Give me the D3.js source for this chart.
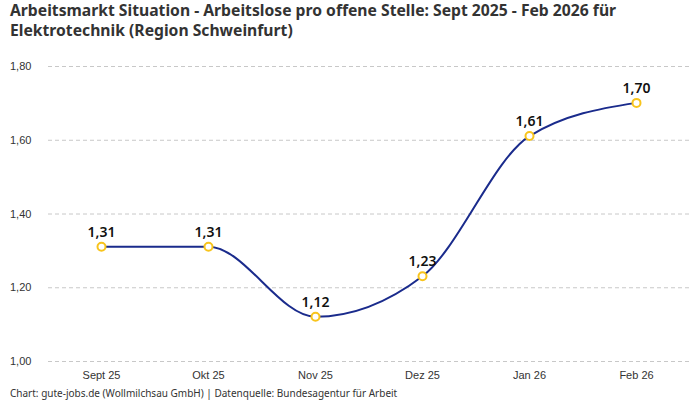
<!DOCTYPE html>
<html>
<head>
<meta charset="utf-8">
<script src="https://cdn.jsdelivr.net/npm/d3@7"></script>
<style>
  body { margin: 0; background: #fff; }
  svg { display: block; font-family: "Noto Sans", "Open Sans", sans-serif; }
</style>
</head>
<body>
<div id="chart"></div>
<script>
// data
var months = ["Sept 25", "Okt 25", "Nov 25", "Dez 25", "Jan 26", "Feb 26"];
var ratio = [1.31, 1.31, 1.12, 1.23, 1.61, 1.70];
var yTicks = [1.0, 1.2, 1.4, 1.6, 1.8];

var width = 700, height = 400;
var mLeft = 48, mRight = 690, mTop = 66, mBottom = 361;

var svg = d3.select("#chart").append("svg")
    .attr("width", width)
    .attr("height", height);

var fmt = function (v) { return v.toFixed(2).replace(".", ","); };

var x = d3.scaleBand().domain(months).range([mLeft, mRight]).padding(0);
var y = d3.scaleLinear().domain([1.0, 1.8]).range([mBottom, mTop]);

// titel
var title = svg.append("text")
    .attr("x", 10).attr("y", 16)
    .attr("font-size", 15.7).attr("font-weight", "bold").attr("fill", "#333");
title.append("tspan").attr("x", 10).attr("dy", 0)
    .text("Arbeitsmarkt Situation - Arbeitslose pro offene Stelle: Sept 2025 - Feb 2026 für");
title.append("tspan").attr("x", 10).attr("dy", 19.5)
    .text("Elektrotechnik (Region Schweinfurt)");

// gitter + y-achse
var gy = svg.append("g").attr("transform", "translate(" + mLeft + ",0)")
    .call(d3.axisLeft(y).tickValues(yTicks).tickFormat(fmt).tickSize(-(mRight - mLeft)).tickPadding(15));
gy.select(".domain").remove();
gy.selectAll(".tick line").attr("stroke", "#c8c8c8").attr("stroke-dasharray", "4,3");
gy.selectAll(".tick text").attr("font-size", 11).attr("fill", "#333")
    .attr("text-anchor", "start").attr("x", -38);

// x-achse
var gx = svg.append("g").attr("transform", "translate(0," + mBottom + ")")
    .call(d3.axisBottom(x).tickSize(0).tickPadding(10));
gx.select(".domain").remove();
gx.selectAll(".tick text").attr("font-size", 11).attr("fill", "#333");

var pts = months.map(function (m, i) { return { m: m, v: ratio[i] }; });

var line = d3.line()
    .x(function (d) { return x(d.m) + x.bandwidth() / 2; })
    .y(function (d) { return y(d.v); })
    .curve(d3.curveMonotoneX);

svg.append("path").datum(pts)
    .attr("d", line)
    .attr("fill", "none")
    .attr("stroke", "#1a2b8c")
    .attr("stroke-width", 2);

svg.selectAll("circle.pt").data(pts).enter().append("circle")
    .attr("class", "pt")
    .attr("cx", function (d) { return x(d.m) + x.bandwidth() / 2; })
    .attr("cy", function (d) { return y(d.v); })
    .attr("r", 4)
    .attr("fill", "#fff")
    .attr("stroke", "#f8c41c")
    .attr("stroke-width", 2);

svg.selectAll("text.lbl").data(pts).enter().append("text")
    .attr("class", "lbl")
    .attr("x", function (d) { return x(d.m) + x.bandwidth() / 2; })
    .attr("y", function (d) { return y(d.v) - 10; })
    .attr("text-anchor", "middle")
    .attr("font-size", 14).attr("font-weight", 600).attr("fill", "#111")
    .text(function (d) { return fmt(d.v); });

// quelle
svg.append("text")
    .attr("x", 10).attr("y", 397)
    .attr("font-size", 10).attr("fill", "#333")
    .text("Chart: gute-jobs.de (Wollmilchsau GmbH) | Datenquelle: Bundesagentur für Arbeit");
</script>
</body>
</html>
